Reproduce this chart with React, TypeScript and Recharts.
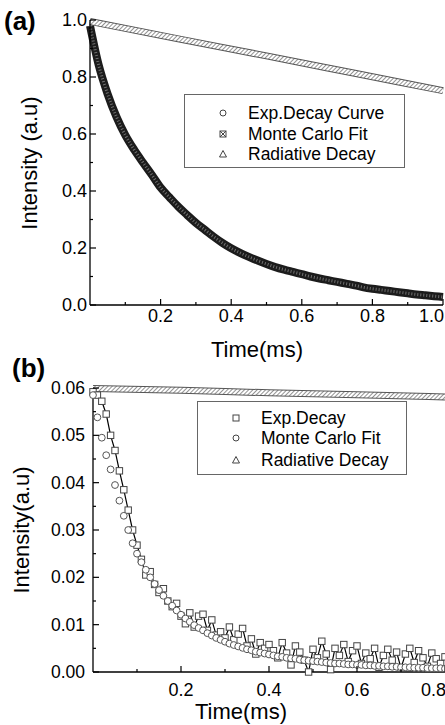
import React from "react";
import { LineChart, Line, XAxis, YAxis, Label } from "recharts";

const FONT = '"Liberation Sans", Arial, sans-serif';

// ---- panel (a) ----
const timeA = [
  0, 0.025, 0.05, 0.075, 0.1, 0.125, 0.15, 0.175, 0.2, 0.225, 0.25, 0.275, 0.3, 0.325,
  0.35, 0.375, 0.4, 0.425, 0.45, 0.475, 0.5, 0.525, 0.55, 0.575, 0.6, 0.625, 0.65,
  0.675, 0.7, 0.725, 0.75, 0.775, 0.8, 0.825, 0.85, 0.875, 0.9, 0.925, 0.95, 0.975, 1.0,
];
const expDecayA = [
  0.98, 0.84, 0.74, 0.66, 0.596, 0.545, 0.5, 0.457, 0.412, 0.378, 0.345, 0.316, 0.288,
  0.264, 0.24, 0.218, 0.199, 0.183, 0.169, 0.156, 0.144, 0.133, 0.124, 0.116, 0.108, 0.1,
  0.093, 0.087, 0.081, 0.075, 0.069, 0.062, 0.057, 0.053, 0.049, 0.045, 0.041, 0.037,
  0.034, 0.031, 0.028,
];
const mcFitA = expDecayA;
const radTimeA = [0, 0.25, 0.5, 0.75, 1.0];
const radDecayA = [0.995, 0.934, 0.874, 0.813, 0.752];
const xTicksA = [0.1, 0.2, 0.3, 0.4, 0.5, 0.6, 0.7, 0.8, 0.9, 1.0];
const yTicksA = [0, 0.1, 0.2, 0.3, 0.4, 0.5, 0.6, 0.7, 0.8, 0.9, 1.0];

// ---- panel (b) ----
const timeB = [
  0, 0.01, 0.02, 0.03, 0.04, 0.05, 0.06, 0.07, 0.08, 0.09, 0.1, 0.11, 0.12, 0.13, 0.14,
  0.15, 0.16, 0.17, 0.18, 0.19, 0.2, 0.21, 0.22, 0.23, 0.24, 0.25, 0.26, 0.27, 0.28, 0.29,
  0.3, 0.31, 0.32, 0.33, 0.34, 0.35, 0.36, 0.37, 0.38, 0.39, 0.4, 0.41, 0.42, 0.43, 0.44,
  0.45, 0.46, 0.47, 0.48, 0.49, 0.5, 0.51, 0.52, 0.53, 0.54, 0.55, 0.56, 0.57, 0.58, 0.59,
  0.6, 0.61, 0.62, 0.63, 0.64, 0.65, 0.66, 0.67, 0.68, 0.69, 0.7, 0.71, 0.72, 0.73, 0.74,
  0.75, 0.76, 0.77, 0.78, 0.79, 0.8,
];
const expDecayB = [
  0.0592, 0.0585, 0.0572, 0.0545, 0.05, 0.0468, 0.0425, 0.0385, 0.0342, 0.03, 0.0268,
  0.0238, 0.0205, 0.0212, 0.0185, 0.0168, 0.0176, 0.015, 0.0138, 0.0145, 0.0118, 0.0102,
  0.0125, 0.0095, 0.0118, 0.0122, 0.0088, 0.011, 0.0078, 0.0085, 0.0072, 0.0095, 0.0068,
  0.008, 0.0092, 0.0055, 0.007, 0.0038, 0.0062, 0.005, 0.0058, 0.0045, 0.003, 0.0062,
  0.004, 0.0015, 0.0055, 0.0042, 0.0025, 0.0, 0.0048, 0.003, 0.0065, 0.0038, 0.0005,
  0.005, 0.0035, 0.0058, 0.0022, 0.0045, 0.0055, 0.0018, 0.004, 0.0028, 0.005, 0.001,
  0.0035, 0.0048, 0.0025, 0.0042, 0.0008, 0.0038, 0.005, 0.002, 0.0045, 0.003, 0.0012,
  0.004, 0.0028, 0.0018, 0.0032,
];
const mcFitB = [
  0.0585, 0.0538, 0.0495, 0.0458, 0.0428, 0.0395, 0.0362, 0.033, 0.03, 0.0272, 0.025,
  0.0232, 0.0216, 0.02, 0.0186, 0.0173, 0.0161, 0.015, 0.014, 0.013, 0.0121, 0.0113,
  0.0106, 0.0099, 0.0093, 0.0088, 0.0082, 0.0077, 0.0072, 0.0068, 0.0064, 0.006, 0.0057,
  0.0054, 0.0051, 0.0048, 0.0046, 0.0043, 0.0041, 0.0039, 0.0037, 0.0035, 0.0033, 0.0032,
  0.003, 0.0029, 0.0028, 0.0026, 0.0025, 0.0024, 0.0023, 0.0022, 0.0021, 0.002, 0.0019,
  0.0018, 0.0018, 0.0017, 0.0016, 0.0016, 0.0015, 0.0015, 0.0014, 0.0014, 0.0013, 0.0013,
  0.0012, 0.0012, 0.0011, 0.0011, 0.001, 0.001, 0.001, 0.0009, 0.0009, 0.0009, 0.0008,
  0.0008, 0.0008, 0.0008, 0.0007,
];
const radTimeB = [0, 0.2, 0.4, 0.6, 0.8];
const radDecayB = [0.0599, 0.0595, 0.059, 0.0586, 0.0581];
const xTicksB = [0.1, 0.2, 0.3, 0.4, 0.5, 0.6, 0.7, 0.8];
const yTicksB = [
  0, 0.005, 0.01, 0.015, 0.02, 0.025, 0.03, 0.035, 0.04, 0.045, 0.05, 0.055, 0.06,
];

const rowsA = timeA.map((t, i) => ({ t, v: expDecayA[i] }));
const fitRowsA = timeA.map((t, i) => ({ t, v: mcFitA[i] }));
const radRowsA = radTimeA.map((t, i) => ({ t, v: radDecayA[i] }));
const rowsB = timeB.map((t, i) => ({ t, v: expDecayB[i] }));
const fitRowsB = timeB.map((t, i) => ({ t, v: mcFitB[i] }));
const radRowsB = radTimeB.map((t, i) => ({ t, v: radDecayB[i] }));

const XTick = ({ x, y, payload, isMajor, fmt, last, dy }: any) => {
  const v = payload.value;
  const major = isMajor(v);
  return (
    <g>
      <line x1={x} y1={y} x2={x} y2={y - (major ? 6 : 3)} stroke="#000" strokeWidth={1.2} />
      {major && (
        <text
          x={v === last ? x + 1 : x}
          y={y + dy}
          textAnchor={v === last ? "end" : "middle"}
          fontSize={18}
          fontFamily={FONT}
          fill="#000"
        >
          {fmt(v)}
        </text>
      )}
    </g>
  );
};

const YTick = ({ x, y, payload, isMajor, fmt, gap, size }: any) => {
  const v = payload.value;
  const major = isMajor(v);
  return (
    <g>
      <line x1={x} y1={y} x2={x + (major ? 6 : 3)} y2={y} stroke="#000" strokeWidth={1.2} />
      {major && (
        <text x={x - gap} y={y + 6} textAnchor="end" fontSize={size} fontFamily={FONT} fill="#000">
          {fmt(v)}
        </text>
      )}
    </g>
  );
};

const Title = ({ x, y, text, vertical }: any) => (
  <text
    x={x}
    y={y}
    textAnchor="middle"
    fontSize={22}
    fontFamily={FONT}
    fill="#000"
    transform={vertical ? `rotate(-90 ${x} ${y})` : undefined}
  >
    {text}
  </text>
);

const Hatch = ({ id }: { id: string }) => (
  <pattern id={id} patternUnits="userSpaceOnUse" width="3" height="3" patternTransform="rotate(45)">
    <rect width="3" height="3" fill="#fff" />
    <line x1="0" y1="0" x2="0" y2="3" stroke="#777" strokeWidth="1.6" />
  </pattern>
);

const Sym = ({ kind }: { kind: string }) => (
  <svg width={12} height={12} style={{ position: "absolute", left: -6, top: -6 }}>
    {kind === "circle" && <circle cx={6} cy={6} r={3} fill="none" stroke="#444" />}
    {kind === "square" && <rect x={3} y={3} width={6} height={6} fill="none" stroke="#444" />}
    {kind === "boxx" && (
      <g stroke="#444" fill="none">
        <rect x={3} y={3} width={6} height={6} />
        <path d="M3 3 L9 9 M9 3 L3 9" />
      </g>
    )}
    {kind === "tri" && <path d="M6 2.5 L9.5 9 L2.5 9 Z" fill="none" stroke="#444" />}
  </svg>
);

const LegendBox = ({ left, top, width, height, rows, items }: any) => (
  <div
    style={{
      position: "absolute",
      left,
      top,
      width,
      height,
      border: "1px solid #666",
      boxSizing: "border-box",
      background: "#fff",
      fontFamily: FONT,
      fontSize: 17.5,
    }}
  >
    {items.map((it: any, i: number) => (
      <div key={it.label}>
        <div style={{ position: "absolute", left: 38, top: rows[i] }}>
          <Sym kind={it.kind} />
        </div>
        <div style={{ position: "absolute", left: 63, top: rows[i] - 10, lineHeight: "20px", whiteSpace: "nowrap" }}>
          {it.label}
        </div>
      </div>
    ))}
  </div>
);

const squareDot = (p: any) => (
  <rect key={`sq-${p.index}`} x={p.cx - 3.2} y={p.cy - 3.2} width={6.4} height={6.4} fill="#fff" stroke="#444" strokeWidth={1} />
);
const circleDot = (p: any) => (
  <circle key={`ci-${p.index}`} cx={p.cx} cy={p.cy} r={3.4} fill="#fff" stroke="#555" strokeWidth={1} />
);

const majorTenth = (v: number) => Math.round(v * 10) % 2 === 0;
const majorHundredth = (v: number) => Math.round(v * 1000) % 10 === 0;

export default function App() {
  return (
    <div style={{ position: "absolute", left: 0, top: 0, width: 445, height: 725, background: "#fff", overflow: "hidden" }}>
      {/* panel (a) */}
      <div style={{ position: "absolute", left: 0, top: 0 }}>
        <LineChart width={445} height={362} margin={{ top: 20, right: 2, bottom: 0, left: 0 }}>
          <defs>
            <Hatch id="hatchA" />
          </defs>
          <XAxis
            dataKey="t"
            type="number"
            domain={[0, 1]}
            ticks={xTicksA}
            interval={0}
            height={57}
            tickSize={0}
            tickMargin={0}
            tickLine={false}
            axisLine={{ stroke: "#000", strokeWidth: 1.3 }}
            tick={<XTick isMajor={majorTenth} fmt={(v: number) => v.toFixed(1)} last={1.0} dy={17} />}
          >
            <Label content={() => <Title x={257} y={357} text="Time(ms)" />} />
          </XAxis>
          <XAxis xAxisId="top" orientation="top" type="number" domain={[0, 1]} height={0} tick={false} tickLine={false} axisLine={{ stroke: "#000", strokeWidth: 1.3 }} />
          <YAxis
            type="number"
            domain={[0, 1]}
            ticks={yTicksA}
            interval={0}
            width={90}
            tickSize={0}
            tickMargin={0}
            tickLine={false}
            axisLine={{ stroke: "#000", strokeWidth: 1.3 }}
            tick={<YTick isMajor={majorTenth} fmt={(v: number) => v.toFixed(1)} gap={3} size={18} />}
          >
            <Label content={() => <Title x={37} y={163} text="Intensity (a.u)" vertical />} />
          </YAxis>
          <YAxis yAxisId="right" orientation="right" type="number" domain={[0, 1]} width={0} tick={false} tickLine={false} axisLine={{ stroke: "#000", strokeWidth: 1.3 }} />
          <Line data={rowsA} dataKey="v" type="monotone" stroke="#1c1c1c" strokeWidth={8} dot={false} isAnimationActive={false} />
          <Line data={fitRowsA} dataKey="v" type="monotone" stroke="#707070" strokeWidth={3} strokeDasharray="1 2" dot={false} isAnimationActive={false} />
          <Line data={radRowsA} dataKey="v" type="monotone" stroke="#555" strokeWidth={7} dot={false} isAnimationActive={false} />
          <Line data={radRowsA} dataKey="v" type="monotone" stroke="url(#hatchA)" strokeWidth={5} dot={false} isAnimationActive={false} />
        </LineChart>
        <div style={{ position: "absolute", left: 4, top: 8, fontFamily: FONT, fontWeight: "bold", fontSize: 26, lineHeight: "26px" }}>(a)</div>
        <LegendBox
          left={184}
          top={94}
          width={221}
          height={74}
          rows={[18, 39, 59]}
          items={[
            { kind: "circle", label: "Exp.Decay Curve" },
            { kind: "boxx", label: "Monte Carlo Fit" },
            { kind: "tri", label: "Radiative Decay" },
          ]}
        />
      </div>

      {/* panel (b) */}
      <div style={{ position: "absolute", left: 0, top: 362 }}>
        <LineChart width={445} height={363} margin={{ top: 26, right: 0, bottom: 0, left: 0 }}>
          <defs>
            <Hatch id="hatchB" />
          </defs>
          <XAxis
            dataKey="t"
            type="number"
            domain={[0, 0.8]}
            ticks={xTicksB}
            interval={0}
            height={53}
            tickSize={0}
            tickMargin={0}
            tickLine={false}
            axisLine={{ stroke: "#000", strokeWidth: 1.3 }}
            tick={<XTick isMajor={majorTenth} fmt={(v: number) => v.toFixed(1)} last={0.8} dy={24} />}
          >
            <Label content={() => <Title x={241} y={357} text="Time(ms)" />} />
          </XAxis>
          <XAxis xAxisId="top" orientation="top" type="number" domain={[0, 0.8]} height={0} tick={false} tickLine={false} axisLine={{ stroke: "#000", strokeWidth: 1.3 }} />
          <YAxis
            type="number"
            domain={[0, 0.06]}
            ticks={yTicksB}
            interval={0}
            width={93}
            tickSize={0}
            tickMargin={0}
            tickLine={false}
            axisLine={{ stroke: "#000", strokeWidth: 1.3 }}
            tick={<YTick isMajor={majorHundredth} fmt={(v: number) => v.toFixed(2)} gap={8} size={17.5} />}
          >
            <Label content={() => <Title x={29} y={168} text="Intensity(a.u)" vertical />} />
          </YAxis>
          <Line data={rowsB} dataKey="v" type="linear" stroke="#000" strokeWidth={1.2} dot={squareDot} isAnimationActive={false} />
          <Line data={fitRowsB} dataKey="v" type="monotone" stroke="none" dot={circleDot} isAnimationActive={false} />
          <Line data={radRowsB} dataKey="v" type="monotone" stroke="#555" strokeWidth={7} dot={false} isAnimationActive={false} />
          <Line data={radRowsB} dataKey="v" type="monotone" stroke="url(#hatchB)" strokeWidth={5} dot={false} isAnimationActive={false} />
        </LineChart>
        <div style={{ position: "absolute", left: 12, top: -7, fontFamily: FONT, fontWeight: "bold", fontSize: 26, lineHeight: "26px" }}>(b)</div>
        <LegendBox
          left={197}
          top={39}
          width={210}
          height={74}
          rows={[16, 36, 58]}
          items={[
            { kind: "square", label: "Exp.Decay" },
            { kind: "circle", label: "Monte Carlo Fit" },
            { kind: "tri", label: "Radiative Decay" },
          ]}
        />
      </div>
    </div>
  );
}
